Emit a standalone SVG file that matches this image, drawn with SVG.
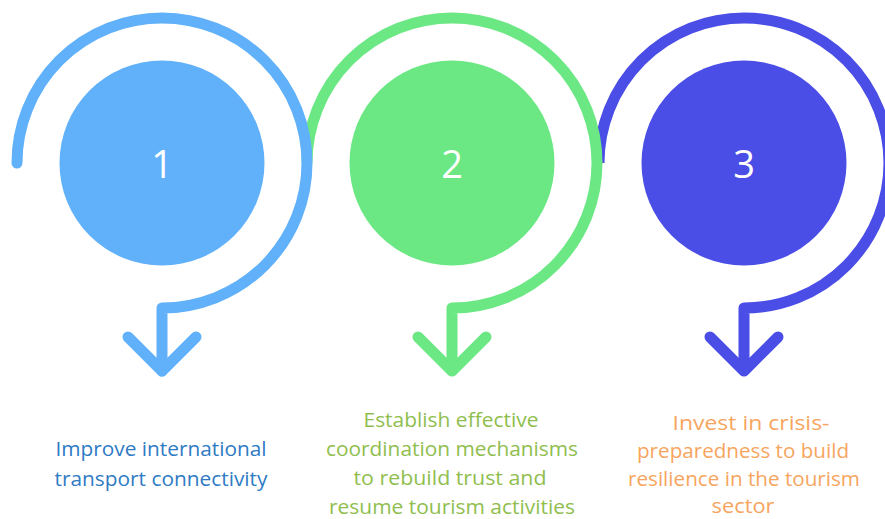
<svg xmlns="http://www.w3.org/2000/svg" width="885" height="519" viewBox="0 0 885 519">
<style>
.ring{fill:none;stroke-width:11;stroke-linecap:round;stroke-linejoin:round}
.num{font-family:"Open Sans","Noto Sans",sans-serif;font-size:38px;font-weight:400;fill:#ffffff;text-anchor:middle}
.lbl{font-family:"Open Sans","Noto Sans",sans-serif;font-size:19.5px;text-anchor:middle}
.b{stroke:#60B1FA}.g{stroke:#6BE884}.p{stroke:#4A4DE6}
</style>
<rect width="885" height="519" fill="#ffffff"/>
<g id="connectors">
<path class="ring p" d="M599,163 A145,145 0 1 1 744,308 L744,371" style="stroke-linecap:butt"/>
<path class="ring p" d="M710,337 L744,371 L778,337"/>
<path class="ring g" d="M307,163 A145,145 0 1 1 452,308 L452,371" style="stroke-linecap:butt"/>
<path class="ring g" d="M418,337 L452,371 L486,337"/>
<path class="ring b" d="M17,163 A145,145 0 1 1 162,308 L162,371"/>
<path class="ring b" d="M128,337 L162,371 L196,337"/>
</g>
<g id="node1">
<circle cx="162" cy="163" r="102.5" fill="#60B1FA"/>
<text class="num" x="162" y="178">1</text>
<text class="lbl" fill="#2E7BC4"><tspan x="161" y="456" textLength="211" lengthAdjust="spacingAndGlyphs">Improve international</tspan><tspan x="161" y="486" textLength="213" lengthAdjust="spacingAndGlyphs">transport connectivity</tspan></text>
</g>
<g id="node2">
<circle cx="452" cy="163" r="102.5" fill="#6BE884"/>
<text class="num" x="452" y="178">2</text>
<text class="lbl" fill="#8FBE4E"><tspan x="451" y="427" textLength="175" lengthAdjust="spacingAndGlyphs">Establish effective</tspan><tspan x="452" y="456" textLength="252" lengthAdjust="spacingAndGlyphs">coordination mechanisms</tspan><tspan x="450" y="485" textLength="193" lengthAdjust="spacingAndGlyphs">to rebuild trust and</tspan><tspan x="452" y="514" textLength="246" lengthAdjust="spacingAndGlyphs">resume tourism activities</tspan></text>
</g>
<g id="node3">
<circle cx="744" cy="163" r="102.5" fill="#4A4DE6"/>
<text class="num" x="744" y="178">3</text>
<text class="lbl" fill="#F7A55E"><tspan x="751" y="430" textLength="157" lengthAdjust="spacingAndGlyphs">Invest in crisis-</tspan><tspan x="743" y="458" textLength="212" lengthAdjust="spacingAndGlyphs">preparedness to build</tspan><tspan x="744" y="486" textLength="232" lengthAdjust="spacingAndGlyphs">resilience in the tourism</tspan><tspan x="743" y="513" textLength="63" lengthAdjust="spacingAndGlyphs">sector</tspan></text>
</g>
</svg>
